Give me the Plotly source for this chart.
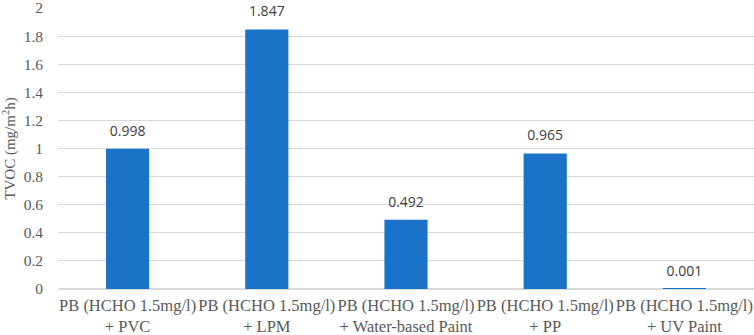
import plotly.graph_objects as go

categories = [
    "PB (HCHO 1.5mg/l)<br>+ PVC",
    "PB (HCHO 1.5mg/l)<br>+ LPM",
    "PB (HCHO 1.5mg/l)<br>+ Water-based Paint",
    "PB (HCHO 1.5mg/l)<br>+ PP",
    "PB (HCHO 1.5mg/l)<br>+ UV Paint",
]
values = [0.998, 1.847, 0.492, 0.965, 0.001]
labels = ["0.998", "1.847", "0.492", "0.965", "0.001"]
ytick_vals = [0, 0.2, 0.4, 0.6, 0.8, 1, 1.2, 1.4, 1.6, 1.8, 2]
ytick_text = ["0", "0.2", "0.4", "0.6", "0.8", "1", "1.2", "1.4", "1.6", "1.8", "2"]

SERIF = "Liberation Serif, Times New Roman, serif"

fig = go.Figure()
fig.add_trace(go.Bar(
    x=categories, y=values,
    marker=dict(color="#1a72c9", line=dict(width=0)),
    hoverinfo="skip",
))
# data labels
fig.add_trace(go.Scatter(
    x=categories, y=values, mode="markers+text",
    text=labels, textposition="top center",
    marker=dict(size=14, opacity=0),
    textfont=dict(family="Open Sans", size=14, color="#404040"),
    hoverinfo="skip", cliponaxis=False,
))

fig.update_layout(
    width=754, height=335,
    margin=dict(l=58, r=0, t=8, b=46),
    paper_bgcolor="white", plot_bgcolor="white",
    showlegend=False, bargap=0.69,
    font=dict(family=SERIF, color="#595959"),
)
fig.update_xaxes(
    tickfont=dict(family=SERIF, size=16.5, color="#595959"),
    showline=False, ticks="", automargin=False, ticklabelstandoff=4,
    ticklabeloverflow="allow",
)
fig.update_yaxes(
    range=[0, 2], tickvals=ytick_vals, ticktext=ytick_text,
    tickfont=dict(family=SERIF, size=15.5, color="#595959"),
    gridcolor="#d9d9d9", gridwidth=1, zeroline=True, zerolinecolor="#d9d9d9",
    showline=False, ticklabelstandoff=14, automargin=False,
    ticklabeloverflow="allow",
    title=dict(text="TVOC (mg/m<sup>2</sup>h)", font=dict(family=SERIF, size=15, color="#595959"), standoff=4),
)
fig.write_html(
    "out.html",
    config={"displayModeBar": False},
    post_script="document.body.style.margin='0';document.body.style.padding='0';",
)
